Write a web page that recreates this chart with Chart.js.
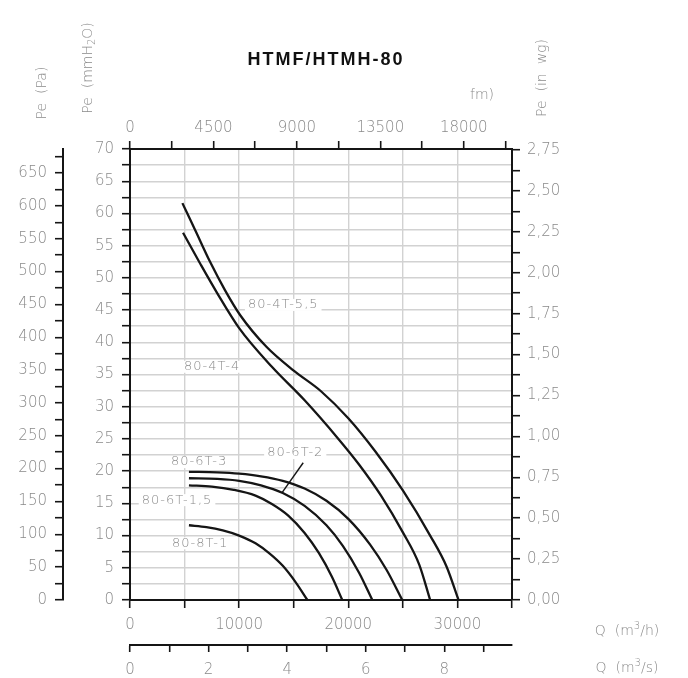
<!DOCTYPE html>
<html>
<head>
<meta charset="utf-8">
<title>HTMF/HTMH-80</title>
<script src="https://cdn.jsdelivr.net/npm/chart.js@4.4.1/dist/chart.umd.min.js"></script>
<style>
  html, body { margin: 0; padding: 0; background: #fff; }
  #wrap { width: 688px; height: 678px; }
</style>
</head>
<body>
<div id="wrap"><canvas id="fanChart" width="688" height="678"></canvas></div>
<script>
// Fan curves: Q in m3/h, Pe in mmH2O
const curveNames = ['80-4T-5,5', '80-4T-4', '80-6T-3', '80-6T-2', '80-6T-1,5', '80-8T-1'];

const q4T55 = [4800, 6000, 7300, 8700, 10100, 12500, 15000, 17500, 20000, 22500, 25000, 27500, 29000, 30100];
const pe4T55 = [61.6, 57.3, 52.6, 48.1, 44.2, 39.3, 35.6, 32.4, 28.2, 23.0, 17.0, 10.0, 5.2, 0];

const q4T4 = [4860, 6500, 8000, 10000, 13000, 16000, 19000, 21000, 23000, 25000, 26500, 27500];
const pe4T4 = [57.0, 52.0, 47.6, 42.2, 36.2, 31.0, 25.2, 21.0, 16.2, 10.5, 5.5, 0];

const q6T3 = [5400, 8000, 10000, 12000, 14000, 16000, 18000, 20000, 22000, 23500, 24950];
const pe6T3 = [19.9, 19.8, 19.6, 19.2, 18.5, 17.3, 15.4, 12.6, 8.6, 4.7, 0];

const q6T2 = [5400, 8000, 10000, 12000, 14000, 16000, 18000, 19500, 21000, 22200];
const pe6T2 = [18.9, 18.8, 18.5, 17.8, 16.6, 14.6, 11.6, 8.4, 4.2, 0];

const q6T15 = [5400, 7500, 9500, 11500, 13000, 14500, 16000, 17300, 18500, 19450];
const pe6T15 = [17.8, 17.6, 17.1, 16.2, 14.9, 13.1, 10.4, 7.3, 3.6, 0];

const q8T1 = [5400, 7000, 8500, 10000, 11500, 12800, 14000, 15200, 16250];
const pe8T1 = [11.6, 11.3, 10.8, 10.0, 8.8, 7.2, 5.3, 2.7, 0];

const curveQ = [q4T55, q4T4, q6T3, q6T2, q6T15, q8T1];
const curvePe = [pe4T55, pe4T4, pe6T3, pe6T2, pe6T15, pe8T1];

// Tick labels
const mmTicks = [0, 5, 10, 15, 20, 25, 30, 35, 40, 45, 50, 55, 60, 65, 70];
const paTicks = [0, 50, 100, 150, 200, 250, 300, 350, 400, 450, 500, 550, 600, 650];
const inwgTicks = [0, 0.25, 0.5, 0.75, 1, 1.25, 1.5, 1.75, 2, 2.25, 2.5, 2.75];
const fmTicks = [0, 4500, 9000, 13500, 18000];
const qhTicks = [0, 10000, 20000, 30000];
const qsTicks = [0, 2, 4, 6, 8];

const dark = '#151515';
const gray = '#8a8a8a';
const gridGray = '#d2d2d2';
const tickFont = { family: '"DejaVu Sans", sans-serif', size: 15, weight: '200' };

function near(list, v) {
    return list.some(t => Math.abs(t - v) < 1e-6);
}

function axis(extra) {
    const base = {
        type: 'linear',
        border: { color: dark, width: 2 },
        grid: { color: gridGray, lineWidth: 1.4, tickColor: dark, tickWidth: 1.6, tickLength: 8, drawOnChartArea: false },
        ticks: { color: gray, font: tickFont, autoSkip: false, maxRotation: 0, includeBounds: false, maxTicksLimit: 1000 }
    };
    return {
        ...base, ...extra,
        grid: { ...base.grid, ...(extra.grid || {}) },
        ticks: { ...base.ticks, ...(extra.ticks || {}) }
    };
}

// tick marks every half label step, labels from the lists above
function halfSteps(step) {
    return s => {
        const ticks = [];
        for (let v = s.min; v <= s.max + 1e-9; v += step) ticks.push({ value: v });
        s.ticks = ticks;
    };
}

// Curve names and one leader line, placed in data units
const curveLabels = [
    { text: '80-4T-5,5', q: 14040, pe: 45.8 },
    { text: '80-4T-4', q: 7520, pe: 36.2 },
    { text: '80-6T-3', q: 6330, pe: 21.4 },
    { text: '80-6T-2', q: 15140, pe: 22.8 },
    { text: '80-6T-1,5', q: 4310, pe: 15.5 },
    { text: '80-8T-1', q: 6420, pe: 8.8 }
];

function drawRotated(ctx, parts, cx, cy, size) {
    ctx.save();
    ctx.translate(cx, cy);
    ctx.rotate(-Math.PI / 2);
    drawParts(ctx, parts, 0, 0, size);
    ctx.restore();
}

// parts: [text, shift] where shift: 0 normal, 1 superscript, -1 subscript
function drawParts(ctx, parts, cx, cy, size) {
    const small = Math.round(size * 0.72);
    let total = 0;
    parts.forEach(p => {
        ctx.font = '200 ' + (p[1] ? small : size) + 'px "DejaVu Sans", sans-serif';
        total += ctx.measureText(p[0]).width;
    });
    let x = cx - total / 2;
    ctx.textAlign = 'left';
    ctx.textBaseline = 'middle';
    parts.forEach(p => {
        ctx.font = '200 ' + (p[1] ? small : size) + 'px "DejaVu Sans", sans-serif';
        const dy = p[1] === 1 ? -size * 0.35 : (p[1] === -1 ? size * 0.3 : 0);
        ctx.fillText(p[0], x, cy + dy);
        x += ctx.measureText(p[0]).width;
    });
}

const decorPlugin = {
    id: 'decor',
    afterDraw(chart) {
        const ctx = chart.ctx;
        const xs = chart.scales.x;
        const ys = chart.scales.y;
        ctx.save();

        // title
        ctx.fillStyle = '#111';
        ctx.font = 'bold 18px "Liberation Sans", Arial, sans-serif';
        ctx.textAlign = 'center';
        ctx.textBaseline = 'middle';
        ctx.letterSpacing = '2px';
        ctx.fillText('HTMF/HTMH-80', 326, 60);
        ctx.letterSpacing = '0px';

        // axis names
        ctx.fillStyle = gray;
        drawRotated(ctx, [['Pe  (Pa)', 0]], 42, 93, 14);
        drawRotated(ctx, [['Pe  (mmH', 0], ['2', -1], ['O)', 0]], 88, 68, 14);
        drawRotated(ctx, [['Pe  (in  wg)', 0]], 542, 78, 14);
        drawParts(ctx, [['fm)', 0]], 482, 95, 14);
        drawParts(ctx, [['Q  (m', 0], ['3', 1], ['/h)', 0]], 627, 631, 14);
        drawParts(ctx, [['Q  (m', 0], ['3', 1], ['/s)', 0]], 627, 668, 14);

        // curve names
        ctx.font = '200 13px "DejaVu Sans", sans-serif';
        ctx.letterSpacing = '1px';
        ctx.textAlign = 'center';
        ctx.textBaseline = 'middle';
        curveLabels.forEach(l => {
            const px = xs.getPixelForValue(l.q);
            const py = ys.getPixelForValue(l.pe);
            const w = ctx.measureText(l.text).width;
            ctx.fillStyle = '#fff';
            ctx.fillRect(px - w / 2 - 3, py - 6, w + 6, 12);
            ctx.fillStyle = gray;
            ctx.fillText(l.text, px, py);
        });
        ctx.letterSpacing = '0px';

        // leader from 80-6T-2 to its curve
        ctx.strokeStyle = dark;
        ctx.lineWidth = 1.4;
        ctx.beginPath();
        ctx.moveTo(xs.getPixelForValue(15870), ys.getPixelForValue(21.3));
        ctx.lineTo(xs.getPixelForValue(13950), ys.getPixelForValue(16.7));
        ctx.stroke();

        ctx.restore();
    }
};

new Chart(document.getElementById('fanChart'), {
    type: 'line',
    data: {
        datasets: curveNames.map((name, i) => ({
            label: name,
            data: curveQ[i].map((q, j) => ({ x: q, y: curvePe[i][j] })),
            borderColor: dark,
            borderWidth: 2.3,
            pointRadius: 0,
            fill: false,
            cubicInterpolationMode: 'monotone',
            xAxisID: 'x',
            yAxisID: 'y'
        }))
    },
    options: {
        responsive: false,
        animation: false,
        devicePixelRatio: 1,
        layout: { padding: { top: 109, left: 0, right: 0, bottom: 0 } },
        plugins: { legend: { display: false }, tooltip: { enabled: false }, title: { display: false } },
        scales: {
            x: axis({
                position: 'bottom', weight: 0, min: 0, max: 35000,
                afterFit: s => { s.height = 45; },
                grid: { drawOnChartArea: true },
                ticks: { stepSize: 5000, padding: 8, callback: v => near(qhTicks, v) ? String(v) : '' }
            }),
            qs: axis({
                position: 'bottom', weight: 1, min: 0, max: 35000 / 3600,
                afterFit: s => { s.height = 33; },
                grid: { tickLength: 7 },
                ticks: { stepSize: 1, padding: 9, callback: v => near(qsTicks, v) ? String(v) : '' }
            }),
            y: axis({
                position: 'left', weight: 0, min: 0, max: 70,
                afterFit: s => { s.width = 67; },
                grid: { drawOnChartArea: true },
                ticks: { stepSize: 2.5, padding: 8, callback: v => near(mmTicks, v) ? String(v) : '' }
            }),
            pa: axis({
                position: 'left', weight: 1, min: 0, max: 70 * 9.80665,
                afterFit: s => { s.width = 63; },
                ticks: { stepSize: 25, padding: 8, callback: v => near(paTicks, v) ? String(v) : '' }
            }),
            fm: axis({
                position: 'top', min: 0, max: 20600,
                afterFit: s => { s.height = 40; },
                afterBuildTicks: halfSteps(2250),
                ticks: { padding: 4, callback: v => near(fmTicks, v) ? String(v) : '' }
            }),
            inwg: axis({
                position: 'right', min: 0, max: 70 / 25.4,
                afterFit: s => { s.width = 176; },
                ticks: { stepSize: 0.125, padding: 7, callback: v => near(inwgTicks, v) ? v.toFixed(2).replace('.', ',') : '' }
            })
        }
    },
    plugins: [decorPlugin]
});
</script>
</body>
</html>
